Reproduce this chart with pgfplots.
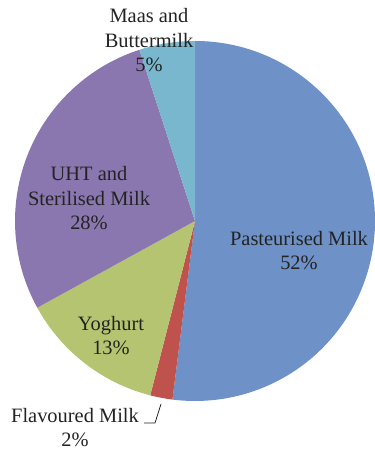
\documentclass[border=0pt]{standalone}
\usepackage{fontspec}
\setmainfont{Liberation Serif}
\usepackage{pgfplots}
\pgfplotsset{compat=1.18}
\definecolor{cPast}{RGB}{110,145,199}
\definecolor{cFlav}{RGB}{192,82,78}
\definecolor{cYog}{RGB}{181,196,112}
\definecolor{cUHT}{RGB}{139,119,176}
\definecolor{cMaas}{RGB}{121,183,206}
\definecolor{txt}{RGB}{35,35,35}
% shares in percent
\def\vPast{52}\def\vFlav{2}\def\vYog{13}\def\vUHT{28}\def\vMaas{5}
\begin{document}
\begin{tikzpicture}
\pgfmathsetmacro{\aA}{90}
\pgfmathsetmacro{\aB}{\aA-3.6*\vPast}
\pgfmathsetmacro{\aC}{\aB-3.6*\vFlav}
\pgfmathsetmacro{\aD}{\aC-3.6*\vYog}
\pgfmathsetmacro{\aE}{\aD-3.6*\vUHT}
\pgfmathsetmacro{\aF}{\aE-3.6*\vMaas}
\begin{axis}[hide axis, scale only axis, width=375bp, height=451bp,
  xmin=0, xmax=375, ymin=0, ymax=451, clip=false]
\path (axis cs:0,0) rectangle (axis cs:375,451);
\fill[cPast] (axis cs:195,230) -- ++(\aA:180bp) arc[start angle=\aA, end angle=\aB, radius=180bp] -- cycle;
\fill[cFlav] (axis cs:195,230) -- ++(\aB:180bp) arc[start angle=\aB, end angle=\aC, radius=180bp] -- cycle;
\fill[cYog] (axis cs:195,230) -- ++(\aC:180bp) arc[start angle=\aC, end angle=\aD, radius=180bp] -- cycle;
\fill[cUHT] (axis cs:195,230) -- ++(\aD:180bp) arc[start angle=\aD, end angle=\aE, radius=180bp] -- cycle;
\fill[cMaas] (axis cs:195,230) -- ++(\aE:180bp) arc[start angle=\aE, end angle=\aF, radius=180bp] -- cycle;
\draw[txt, line width=0.8pt] (axis cs:144,28) -- (axis cs:155,28) -- (axis cs:161,47);
\begin{scope}[every node/.style={align=center, text=txt, font=\fontsize{20.5}{25}\selectfont, inner sep=0pt}]
\node[anchor=base] at (axis cs:149,379) {Maas and\\Buttermilk\\5\%};
\node[anchor=base] at (axis cs:89,221) {UHT and\\Sterilised Milk\\28\%};
\node[anchor=base] at (axis cs:299,181) {Pasteurised Milk\\52\%};
\node[anchor=base] at (axis cs:111,96) {Yoghurt\\13\%};
\node[anchor=base] at (axis cs:75,4) {Flavoured Milk\\2\%};
\end{scope}
\end{axis}
\end{tikzpicture}
\end{document}
